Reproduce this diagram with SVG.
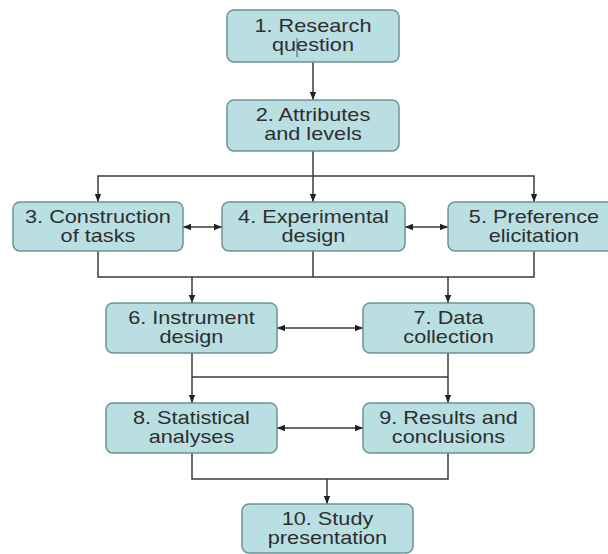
<svg xmlns="http://www.w3.org/2000/svg" width="608" height="554" viewBox="0 0 608 554">
<defs>
<style>
.box{fill:#b9dfe3;stroke:#6e9295;stroke-width:1.5}
.lbl{font-family:"Liberation Sans",Arial,sans-serif;font-size:17.5px;fill:#2e2e2e;text-anchor:middle}
.con{fill:none;stroke:#3a3a3a;stroke-width:1.5}
</style>
<marker id="ah" markerUnits="userSpaceOnUse" markerWidth="8" markerHeight="8" viewBox="0 0 8 8" refX="8" refY="4" orient="auto-start-reverse">
<path d="M0,0.8 L8,4 L0,7.2 Z" fill="#222"/>
</marker>
</defs>
<rect width="608" height="554" fill="#ffffff"/>
<g id="connectors">
<line class="con" x1="313" y1="62" x2="313" y2="100" marker-end="url(#ah)"/>
<line class="con" x1="313" y1="151" x2="313" y2="202" marker-end="url(#ah)"/>
<polyline class="con" points="98,202 98,176 534,176 534,202" marker-start="url(#ah)" marker-end="url(#ah)"/>
<line class="con" x1="183" y1="227" x2="222" y2="227" marker-start="url(#ah)" marker-end="url(#ah)"/>
<line class="con" x1="405" y1="227" x2="448" y2="227" marker-start="url(#ah)" marker-end="url(#ah)"/>
<polyline class="con" points="98,251 98,277 534,277 534,251"/>
<line class="con" x1="313" y1="251" x2="313" y2="277"/>
<line class="con" x1="192" y1="277" x2="192" y2="303" marker-end="url(#ah)"/>
<line class="con" x1="448" y1="277" x2="448" y2="303" marker-end="url(#ah)"/>
<line class="con" x1="277" y1="328" x2="363" y2="328" marker-start="url(#ah)" marker-end="url(#ah)"/>
<line class="con" x1="192" y1="353" x2="192" y2="403" marker-end="url(#ah)"/>
<line class="con" x1="448" y1="353" x2="448" y2="403" marker-end="url(#ah)"/>
<line class="con" x1="192" y1="377" x2="448" y2="377"/>
<line class="con" x1="277" y1="428" x2="363" y2="428" marker-start="url(#ah)" marker-end="url(#ah)"/>
<polyline class="con" points="192,453 192,479 448,479 448,453"/>
<line class="con" x1="327" y1="479" x2="327" y2="504" marker-end="url(#ah)"/>
</g>
<g id="n1">
<rect class="box" x="227" y="10" width="172" height="52" rx="7"/>
<text class="lbl" transform="scale(1.24 1)" x="252.4" y="32">1. Research</text>
<text class="lbl" transform="scale(1.24 1)" x="252.4" y="51">question</text>
<line x1="297" y1="38" x2="297" y2="57" stroke="#555" stroke-width="1"/>
</g>
<g id="n2">
<rect class="box" x="227" y="100" width="172" height="51" rx="7"/>
<text class="lbl" transform="scale(1.24 1)" x="252.4" y="121.5">2. Attributes</text>
<text class="lbl" transform="scale(1.24 1)" x="252.4" y="140.5">and levels</text>
</g>
<g id="n3">
<rect class="box" x="13" y="202" width="170" height="49" rx="7"/>
<text class="lbl" transform="scale(1.24 1)" x="79" y="223">3. Construction</text>
<text class="lbl" transform="scale(1.24 1)" x="79" y="242">of tasks</text>
</g>
<g id="n4">
<rect class="box" x="222" y="202" width="183" height="49" rx="7"/>
<text class="lbl" transform="scale(1.24 1)" x="252.8" y="223">4. Experimental</text>
<text class="lbl" transform="scale(1.24 1)" x="252.8" y="242">design</text>
</g>
<g id="n5">
<rect class="box" x="448" y="202" width="172" height="49" rx="7"/>
<text class="lbl" transform="scale(1.24 1)" x="430.6" y="223">5. Preference</text>
<text class="lbl" transform="scale(1.24 1)" x="430.6" y="242">elicitation</text>
</g>
<g id="n6">
<rect class="box" x="106" y="303" width="171" height="50" rx="7"/>
<text class="lbl" transform="scale(1.24 1)" x="154.4" y="324">6. Instrument</text>
<text class="lbl" transform="scale(1.24 1)" x="154.4" y="343">design</text>
</g>
<g id="n7">
<rect class="box" x="363" y="303" width="171" height="50" rx="7"/>
<text class="lbl" transform="scale(1.24 1)" x="361.7" y="324">7. Data</text>
<text class="lbl" transform="scale(1.24 1)" x="361.7" y="343">collection</text>
</g>
<g id="n8">
<rect class="box" x="106" y="403" width="171" height="50" rx="7"/>
<text class="lbl" transform="scale(1.24 1)" x="154.4" y="424">8. Statistical</text>
<text class="lbl" transform="scale(1.24 1)" x="154.4" y="443">analyses</text>
</g>
<g id="n9">
<rect class="box" x="363" y="403" width="171" height="50" rx="7"/>
<text class="lbl" transform="scale(1.24 1)" x="361.7" y="424">9. Results and</text>
<text class="lbl" transform="scale(1.24 1)" x="361.7" y="443">conclusions</text>
</g>
<g id="n10">
<rect class="box" x="242" y="504" width="171" height="49" rx="7"/>
<text class="lbl" transform="scale(1.24 1)" x="264.1" y="525">10. Study</text>
<text class="lbl" transform="scale(1.24 1)" x="264.1" y="544">presentation</text>
</g>
</svg>
